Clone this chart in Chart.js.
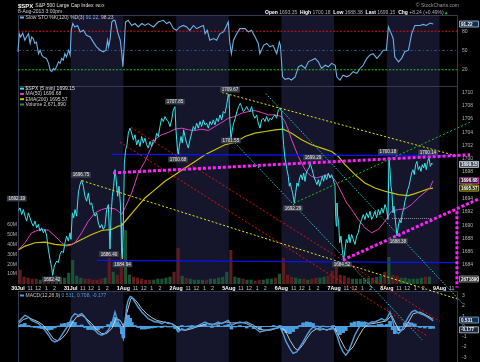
<!DOCTYPE html>
<html>
<head>
<meta charset="utf-8">
<script src="https://cdn.jsdelivr.net/npm/chart.js@4.4.0/dist/chart.umd.min.js"></script>
<style>
html, body { margin: 0; padding: 0; background: #000; }
#wrap { position: relative; width: 480px; height: 362px; overflow: hidden; background: #000; }
canvas { position: absolute; left: 0; top: 0; }
</style>
</head>
<body>
<div id="wrap">
  <canvas id="sto" width="480" height="362"></canvas>
  <canvas id="macd" width="480" height="362"></canvas>
  <canvas id="price" width="480" height="362"></canvas>
</div>
<script>
// x axis is measured in trading days from 30Jul 9:30 (one day = 78 five-minute bars)
const dayNames = ['30Jul', '31Jul', '1Aug', '2Aug', '5Aug', '6Aug', '7Aug', '8Aug', '9Aug'];
const hourNames = ['11', '12', '1', '2'];
const hourBars = [18, 30, 42, 54];
const barsPerDay = 78;
const xMax = 8.35;

const stoTicks = [20, 50, 80];
const priceTicks = [1682, 1684, 1686, 1688, 1690, 1692, 1694, 1696, 1698, 1700, 1702, 1704, 1706, 1708, 1710];
const volTicks = [10, 20, 30, 40, 50, 60];
const macdTicks = [-3, -2, -1, 0, 1, 2, 3];

// $SPX 5 min closes
const priceDay = [
  0.006, 0.038, 0.07, 0.101, 0.133, 0.164, 0.196, 0.228, 0.259, 0.291, 0.323, 0.354, 0.386, 0.417, 0.449, 0.481,
  0.512, 0.544, 0.576, 0.607, 0.639, 0.658, 0.689, 0.734, 0.765, 0.797, 0.829, 0.86, 0.892, 0.923, 0.955, 0.987,
  1.006, 1.031, 1.056, 1.082, 1.113, 1.145, 1.176, 1.208, 1.24, 1.271, 1.303, 1.335, 1.366, 1.398, 1.429, 1.461,
  1.493, 1.524, 1.556, 1.588, 1.619, 1.651, 1.682, 1.714, 1.746, 1.765, 1.79, 1.815, 1.841, 1.86, 1.891, 1.917,
  1.942, 1.955, 1.967, 1.98, 1.999,
  2.018, 2.043, 2.068, 2.094, 2.125, 2.157, 2.188, 2.22, 2.252, 2.283, 2.315, 2.347, 2.378, 2.41, 2.441, 2.473,
  2.505, 2.536, 2.568, 2.6, 2.631, 2.663, 2.694, 2.726, 2.758, 2.789, 2.821, 2.852, 2.884, 2.916, 2.947, 2.979, 2.998,
  3.017, 3.03, 3.042, 3.061, 3.093, 3.118, 3.144, 3.169, 3.2, 3.232, 3.264, 3.295, 3.327, 3.359, 3.39, 3.422,
  3.454, 3.485, 3.517, 3.548, 3.58, 3.612, 3.643, 3.675, 3.706, 3.738, 3.77, 3.801, 3.833, 3.865, 3.896, 3.928, 3.96, 3.991,
  4.004, 4.023, 4.042, 4.067, 4.092, 4.123, 4.155, 4.187, 4.218, 4.244, 4.275, 4.307, 4.339, 4.37, 4.402, 4.434,
  4.465, 4.497, 4.529, 4.56, 4.592, 4.624, 4.655, 4.687, 4.718, 4.75, 4.782, 4.813, 4.845, 4.877, 4.908, 4.94, 4.972, 5.003,
  5.022, 5.041, 5.066, 5.085, 5.104, 5.13, 5.149, 5.168, 5.193, 5.212, 5.231, 5.244, 5.269, 5.294, 5.319, 5.345,
  5.37, 5.395, 5.421, 5.446, 5.471, 5.497, 5.522, 5.547, 5.572, 5.598, 5.623, 5.648, 5.674, 5.699, 5.724, 5.749,
  5.775, 5.8, 5.825, 5.857, 5.889, 5.92, 5.952, 5.984,
  6.015, 6.028, 6.041, 6.053, 6.066, 6.085, 6.104, 6.129, 6.154, 6.179, 6.205, 6.23, 6.255, 6.281, 6.3, 6.331,
  6.363, 6.395, 6.426, 6.458, 6.489, 6.521, 6.553, 6.584, 6.616, 6.648, 6.679, 6.711, 6.742, 6.774, 6.806, 6.837,
  6.869, 6.901, 6.932, 6.964, 6.996,
  7.021, 7.04, 7.059, 7.078, 7.097, 7.116, 7.135, 7.154, 7.173, 7.192, 7.217, 7.243, 7.268, 7.293, 7.318, 7.343,
  7.369, 7.394, 7.419, 7.445, 7.47, 7.495, 7.52, 7.546, 7.571, 7.596, 7.622, 7.647, 7.672, 7.698, 7.723, 7.748,
  7.774, 7.799, 7.824, 7.85, 7.875
];
const priceVal = [
  1692.19, 1692.6, 1691.6, 1692.35, 1691.35, 1690.6, 1691.85, 1691.1, 1690.35, 1689.85, 1690.6, 1689.6, 1690.1, 1689.1, 1689.6, 1688.85,
  1689.35, 1688.35, 1686.35, 1684.85, 1683.6, 1682.42, 1683.85, 1684.6, 1684.35, 1685.6, 1686.1, 1685.85, 1687.35, 1688.35, 1687.6, 1688.85,
  1687.85, 1691.85, 1691.1, 1692.35, 1691.35, 1694.85, 1696.1, 1696.75, 1695.85, 1694.35, 1693.6, 1694.85, 1693.1, 1693.35, 1692.1, 1691.35,
  1691.85, 1690.35, 1689.6, 1690.1, 1689.35, 1689.85, 1692.35, 1693.1, 1686.4, 1691.35, 1694.35, 1695.85, 1698.35, 1697.1, 1694.35, 1695.85,
  1693.35, 1690.35, 1685.85, 1684.94, 1689.85,
  1699.35, 1701.35, 1702.1, 1703.85, 1704.6, 1703.85, 1702.85, 1703.6, 1702.1, 1702.85, 1701.85, 1703.35, 1702.35, 1703.1, 1702.1, 1701.6,
  1702.6, 1701.85, 1702.85, 1702.6, 1703.85, 1703.35, 1704.85, 1706.1, 1705.6, 1706.35, 1705.85, 1705.6, 1704.85, 1705.85, 1707.35, 1707.85, 1704.35,
  1702.35, 1701.1, 1700.68, 1701.85, 1703.35, 1702.35, 1704.35, 1703.35, 1702.35, 1701.6, 1702.85, 1703.85, 1704.85, 1704.35, 1705.35, 1704.6,
  1705.6, 1704.85, 1705.85, 1705.1, 1705.35, 1704.6, 1705.6, 1705.1, 1705.85, 1705.1, 1706.1, 1705.6, 1706.6, 1705.85, 1707.1, 1706.85, 1708.1, 1709.67,
  1709.35, 1705.35, 1703.0, 1704.35, 1705.35, 1706.1, 1707.1, 1707.85, 1708.35, 1707.85, 1707.1, 1707.35, 1707.85, 1707.35, 1707.1, 1707.85,
  1706.6, 1706.1, 1706.6, 1705.35, 1704.6, 1705.85, 1706.1, 1705.6, 1706.35, 1705.6, 1706.1, 1705.85, 1706.35, 1706.6, 1706.1, 1707.35, 1707.6, 1707.1,
  1704.35, 1702.1, 1700.1, 1699.35, 1698.35, 1697.35, 1695.85, 1696.35, 1695.35, 1694.85, 1693.85, 1693.3, 1694.85, 1696.35, 1695.85, 1697.1,
  1697.6, 1696.85, 1697.85, 1696.6, 1697.85, 1698.35, 1698.6, 1699.29, 1698.6, 1697.85, 1697.1, 1696.6, 1696.1, 1696.85, 1695.85, 1696.6,
  1697.35, 1696.6, 1697.6, 1696.85, 1697.85, 1697.1, 1697.6, 1696.85,
  1695.85, 1691.35, 1689.85, 1693.35, 1691.35, 1690.35, 1687.35, 1688.35, 1686.35, 1684.6, 1686.35, 1687.85, 1687.35, 1688.6, 1687.35, 1688.6,
  1687.85, 1687.1, 1688.35, 1688.85, 1690.1, 1690.85, 1691.6, 1690.85, 1691.85, 1691.1, 1692.1, 1690.85, 1691.35, 1692.1, 1691.1, 1692.35,
  1691.6, 1692.6, 1691.85, 1693.1, 1692.35,
  1690.85, 1700.18, 1698.35, 1695.85, 1694.85, 1691.85, 1692.85, 1691.35, 1689.85, 1688.38, 1689.85, 1690.85, 1690.35, 1691.85, 1692.35, 1693.6,
  1694.35, 1695.35, 1695.85, 1696.85, 1697.85, 1698.35, 1697.6, 1699.1, 1699.6, 1698.35, 1698.85, 1698.1, 1699.1, 1698.6, 1699.35, 1698.35,
  1699.6, 1700.14, 1698.85, 1699.35, 1699.15
];

const ma50Day = [0.006, 0.133, 0.259, 0.417, 0.576, 0.702, 0.829, 0.923, 0.987, 1.082, 1.208, 1.335, 1.461, 1.588, 1.714, 1.841, 1.904, 1.967, 2.03,
  2.157, 2.283, 2.41, 2.536, 2.631, 2.726, 2.852, 2.979, 3.106, 3.232, 3.359, 3.485, 3.612, 3.738, 3.865, 3.991, 4.117,
  4.244, 4.371, 4.497, 4.624, 4.75, 4.877, 5.003, 5.066, 5.13, 5.193, 5.256, 5.319, 5.383, 5.446, 5.509, 5.572, 5.667, 5.762, 5.889, 5.984, 6.047, 6.142, 6.237,
  6.331, 6.458, 6.584, 6.711, 6.837, 6.964, 7.09, 7.217, 7.344, 7.47, 7.597, 7.723, 7.818, 7.875];
const ma50Val = [1686.25, 1687.35, 1688.85, 1689.35, 1689.25, 1688.35, 1687.35, 1686.85, 1686.95, 1687.35, 1688.85, 1690.6, 1691.85, 1692.35, 1692.6, 1692.45, 1692.1, 1691.6, 1692.6,
  1694.85, 1697.85, 1699.6, 1701.85, 1703.1, 1703.6, 1703.95, 1704.45, 1704.6, 1704.35, 1704.25, 1704.45, 1704.25, 1704.85, 1705.45, 1706.1, 1706.35,
  1706.85, 1707.1, 1707.25, 1706.95, 1706.6, 1706.6, 1706.35, 1705.6, 1704.35, 1702.85, 1701.6, 1700.35, 1699.35, 1698.35, 1697.75, 1697.35, 1697.1, 1697.35, 1697.6, 1697.1, 1696.35, 1694.85, 1693.35,
  1692.35, 1690.85, 1689.6, 1688.85, 1689.35, 1690.6, 1692.1, 1692.35, 1692.45, 1693.1, 1694.1, 1694.95, 1695.6, 1696.68];

const ema200Day = [0.006, 0.133, 0.323, 0.512, 0.702, 0.892, 1.018, 1.208, 1.398, 1.588, 1.777, 1.904, 1.967, 2.062,
  2.22, 2.41, 2.6, 2.789, 2.979, 3.169, 3.359, 3.548, 3.738, 3.928, 4.117,
  4.307, 4.497, 4.687, 4.877, 5.035, 5.193, 5.383, 5.572, 5.762, 5.952, 6.079, 6.205,
  6.395, 6.584, 6.774, 6.964, 7.09, 7.217, 7.407, 7.533, 7.66, 7.786, 7.875];
const ema200Val = [1686.25, 1686.85, 1687.35, 1687.45, 1687.1, 1686.95, 1687.1, 1687.85, 1688.6, 1689.2, 1689.35, 1689.85, 1689.95, 1690.85,
  1692.35, 1694.1, 1695.35, 1696.6, 1697.6, 1698.6, 1699.6, 1700.6, 1701.35, 1702.1, 1702.45,
  1703.35, 1703.85, 1704.1, 1704.35, 1704.45, 1703.85, 1702.85, 1702.1, 1701.6, 1701.1, 1700.35, 1699.1,
  1697.6, 1696.35, 1695.6, 1695.1, 1694.85, 1694.6, 1694.45, 1694.75, 1695.1, 1695.45, 1695.57];

// volume, millions, per half hour of each session
const volByDay = [
  [14, 7, 6, 5, 5, 4, 4, 5, 7, 8, 6, 6, 11],
  [24, 8, 6, 5, 5, 4, 4, 5, 6, 26, 12, 9, 30],
  [54, 9, 7, 6, 5, 4, 4, 4, 5, 5, 6, 7, 12],
  [36, 8, 6, 5, 4, 4, 4, 4, 5, 5, 6, 7, 12],
  [34, 7, 6, 5, 4, 4, 3, 4, 4, 5, 5, 6, 10],
  [26, 9, 7, 6, 5, 5, 4, 5, 6, 6, 7, 8, 13],
  [18, 9, 8, 6, 5, 5, 5, 5, 6, 6, 7, 8, 12],
  [27, 9, 8, 6, 6, 5, 5, 5, 6, 7, 7]
];

// Slow STO %K(120)
const stoDay = [0.0, 0.025, 0.05, 0.09, 0.13, 0.16, 0.2, 0.23, 0.26, 0.29, 0.32, 0.35, 0.39, 0.42, 0.45, 0.48, 0.54, 0.58, 0.61, 0.64,
  0.67, 0.7, 0.73, 0.77, 0.8, 0.83, 0.86, 0.89, 0.92, 0.96, 0.99, 1.01, 1.04, 1.08, 1.13, 1.18, 1.24, 1.3, 1.37, 1.43,
  1.49, 1.56, 1.62, 1.67, 1.7, 1.72, 1.75, 1.78, 1.81, 1.84, 1.87, 1.9, 1.94, 1.97, 1.99, 2.01, 2.04, 2.09, 2.16, 2.22,
  2.28, 2.35, 2.41, 2.47, 2.57, 2.66, 2.76, 2.82, 2.88, 2.95, 3.01, 3.07, 3.14, 3.2, 3.26, 3.33, 3.39, 3.45, 3.52, 3.55,
  3.59, 3.64, 3.71, 3.77, 3.83, 3.9, 3.96, 3.99, 4.02, 4.05, 4.09, 4.15, 4.21, 4.31, 4.37, 4.43, 4.5, 4.56, 4.59, 4.66,
  4.72, 4.78, 4.84, 4.91, 4.96, 4.98, 5.02, 5.07, 5.13, 5.19, 5.26, 5.32, 5.38, 5.45, 5.51, 5.57, 5.64, 5.7, 5.76, 5.83,
  5.89, 5.95, 6.02, 6.05, 6.11, 6.17, 6.24, 6.3, 6.36, 6.43, 6.49, 6.55, 6.62, 6.68, 6.74, 6.81, 6.87, 6.93, 6.99, 7.03,
  7.07, 7.12, 7.15, 7.22, 7.28, 7.34, 7.41, 7.47, 7.53, 7.63, 7.69, 7.75, 7.82, 7.88];
const stoVal = [47.9, 76, 71, 77, 66, 71, 76, 61, 71, 68.7, 61, 63, 45, 50.5, 43, 40, 37.7, 30, 19.5, 17,
  22, 19.5, 24.6, 32.4, 30, 37.7, 35, 45, 40, 50.5, 43, 81.5, 92, 86.7, 89, 79, 81.5, 73.8, 71, 63,
  55.7, 50.5, 48, 50.5, 66, 55.7, 68.7, 94.4, 97, 97, 86.7, 76, 66, 45, 24.6, 50.5, 94.4, 97, 89, 92,
  86.7, 92, 89, 92, 86.7, 94.4, 97, 92, 94.4, 84, 81.5, 86.7, 89, 86.7, 81.5, 89, 84, 86.7, 89, 76,
  81.5, 66, 68.7, 66, 76, 79, 89, 94.4, 61, 45, 66, 76, 84, 84, 79, 81.5, 71, 61, 45, 58,
  61, 55.7, 58, 45, 63, 58, 9, 5, 6.6, 4, 9, 24.6, 27, 22, 32.4, 35, 37.7, 32.4, 22, 27,
  24.6, 30, 27, 9, 4, 11.6, 9, 11.6, 17, 14.3, 22, 27, 37.7, 43, 45, 37.7, 43, 50.5, 50.5, 86.7,
  79, 68.7, 40, 32.4, 37.7, 48, 50.5, 76, 89, 89, 90.7, 89, 92.8, 91.22];

// MACD(12,26,9): line, histogram, signal
const macdDay = [0.01, 0.07, 0.13, 0.2, 0.26, 0.32, 0.39, 0.45, 0.51, 0.58, 0.64, 0.7, 0.77, 0.83, 0.89, 0.96, 1.02, 1.08, 1.14, 1.21,
  1.27, 1.33, 1.4, 1.46, 1.52, 1.59, 1.65, 1.71, 1.78, 1.84, 1.87, 1.92, 1.97, 2.0, 2.03, 2.06, 2.09, 2.13, 2.16, 2.22,
  2.28, 2.35, 2.41, 2.47, 2.54, 2.6, 2.66, 2.73, 2.79, 2.85, 2.92, 2.98, 3.04, 3.11, 3.17, 3.23, 3.3, 3.36, 3.42, 3.49,
  3.55, 3.61, 3.68, 3.74, 3.8, 3.86, 3.93, 3.99, 4.05, 4.12, 4.21, 4.34, 4.47, 4.59, 4.72, 4.85, 4.97, 5.03, 5.09, 5.16,
  5.22, 5.29, 5.35, 5.41, 5.48, 5.54, 5.6, 5.67, 5.73, 5.79, 5.86, 5.92, 5.98, 6.05, 6.11, 6.17, 6.22, 6.27, 6.33, 6.39,
  6.46, 6.52, 6.58, 6.65, 6.71, 6.77, 6.84, 6.9, 6.96, 7.0, 7.06, 7.11, 7.15, 7.22, 7.28, 7.34, 7.41, 7.47, 7.53, 7.63,
  7.72, 7.82, 7.88];
const macdVal = [0.44, 0.77, 1.09, 0.93, 0.6, 0.44, 0.28, -0.05, -0.37, -0.85, -1.34, -1.5, -1.34, -0.85, -0.37, 0.12, 0.92, 1.25, 1.09, 1.25,
  0.93, 0.44, -0.05, -0.37, -0.69, -0.85, -0.69, -0.37, 0.28, 1.41, 0.93, 0.28, -0.69, -1.18, 0.28, 1.9, 2.54, 2.93, 2.87, 2.38,
  1.9, 1.41, 1.09, 0.77, 0.6, 0.44, 0.44, 0.28, 0.44, 0.28, 0.28, -0.05, -0.53, -0.21, -0.37, -0.21, -0.05, -0.05, 0.12, 0.28,
  0.44, 0.28, 0.12, 0.28, 0.44, 0.28, 0.44, 0.6, 0.12, 0.28, 0.44, 0.28, -0.05, -0.53, -0.37, -0.21, -0.05, -0.69, -1.5, -2.15,
  -2.63, -2.47, -1.99, -1.5, -0.85, -0.37, -0.05, -0.21, -0.37, -0.21, -0.37, -0.21, -0.05, -0.85, -1.83, -2.47, -2.8, -2.47, -1.67, -0.85,
  -0.21, 0.28, 0.44, 0.28, 0.44, 0.44, 0.6, 0.77, 0.6, 0.77, 1.41, 0.6, -0.37, -0.69, -0.37, 0.28, 0.93, 1.41, 1.57, 1.25,
  1.09, 0.77, 0.531];
const macdHist = [0.15, 0.2, 0.3, 0.1, -0.05, -0.1, -0.15, -0.2, -0.25, -0.35, -0.3, -0.15, 0.05, 0.25, 0.3, 0.4, 0.55, 0.4, 0.1, 0.15,
  -0.1, -0.3, -0.3, -0.35, -0.3, -0.15, 0.0, 0.2, 0.45, 0.9, 0.4, 0.2, -0.7, -1.1, 0.3, 0.9, 1.1, 0.8, 0.4, 0.1,
  -0.1, -0.25, -0.25, -0.2, -0.15, -0.1, -0.05, -0.1, 0.05, -0.05, -0.05, -0.2, -0.35, 0.1, 0.0, 0.05, 0.1, 0.05, 0.1, 0.15,
  0.2, 0.05, -0.1, 0.05, 0.15, 0.0, 0.1, 0.2, -0.25, -0.05, 0.1, -0.15, -0.2, -0.25, 0.0, 0.1, 0.1, -0.4, -0.6, -0.7,
  -0.5, -0.2, 0.1, 0.35, 0.45, 0.4, 0.3, 0.05, -0.1, 0.05, -0.05, 0.0, 0.1, -0.5, -0.8, -0.6, -0.4, 0.0, 0.35, 0.45,
  0.5, 0.45, 0.3, 0.1, 0.1, 0.1, 0.2, 0.25, 0.1, 0.2, 0.5, -0.3, -0.7, -0.4, -0.05, 0.35, 0.4, 0.35, 0.25, -0.1,
  -0.15, -0.2, -0.177];
const sigDay = [0.01, 0.1, 0.2, 0.29, 0.39, 0.48, 0.58, 0.67, 0.75, 0.83, 0.92, 1.02, 1.11, 1.21, 1.3, 1.4, 1.49, 1.59, 1.68, 1.78,
  1.86, 1.94, 2.01, 2.07, 2.14, 2.19, 2.26, 2.35, 2.44, 2.54, 2.63, 2.76, 2.88, 2.98, 3.07, 3.17, 3.26, 3.36, 3.45, 3.58,
  3.71, 3.83, 3.96, 4.05, 4.21, 4.34, 4.47, 4.59, 4.78, 4.97, 5.07, 5.16, 5.26, 5.32, 5.4, 5.48, 5.57, 5.67, 5.86, 6.02,
  6.11, 6.21, 6.27, 6.36, 6.46, 6.55, 6.65, 6.81, 6.99, 7.09, 7.15, 7.23, 7.32, 7.41, 7.5, 7.63, 7.75, 7.88];
const sigVal = [0.28, 0.67, 0.86, 0.67, 0.44, 0.12, -0.53, -1.18, -1.4, -1.18, -0.69, 0.28, 0.93, 1.09, 0.77, 0.28, -0.3, -0.69, -0.69, -0.21,
  0.77, 0.6, -0.05, 1.41, 2.7, 2.77, 2.38, 1.73, 1.25, 0.86, 0.6, 0.44, 0.35, 0.12, -0.3, -0.37, -0.27, -0.1, 0.05, 0.28,
  0.22, 0.28, 0.44, 0.35, 0.35, 0.44, 0.12, -0.3, -0.37, -0.1, -0.37, -1.34, -2.15, -2.31, -1.83, -1.18, -0.53, -0.21, -0.3, -0.21,
  -1.18, -2.15, -2.47, -1.99, -1.01, -0.21, 0.22, 0.35, 0.54, 1.09, 0.44, -0.37, -0.3, 0.44, 1.25, 1.41, 1.09, 0.708];

// hand drawn annotations, [day, price] end points
const trendYellowA = [[1.214, 1696.70], [8.33, 1678.9]];
const trendYellowB = [[3.871, 1709.98], [8.35, 1700.37]];
const trendGreen = [[5.237, 1693.30], [8.577, 1705.49]];
const trendCyanA = [[4.706, 1709.79], [8.425, 1678.31]];
const trendCyanB = [[4.004, 1703.34], [7.666, 1672.76]];
const trendRedA = [[2.144, 1704.74], [8.008, 1675.5]];
const trendRedB = [[1.935, 1702.49], [7.78, 1673.25]];
const levelHigh = [[1.784, 1700.65], [8.31, 1700.45]];
const levelLow = [[1.5, 1684.71], [8.31, 1684.35]];
const channelTop = [[1.803, 1697.87], [8.577, 1700.60]];
const channelBottom = [[6.167, 1684.75], [8.73, 1693.9]];
const targetLine = [[8.33, 1692.1], [8.33, 1680.6]];
const pivotLine = [[7.1, 1691.0], [7.85, 1691.0]];

// price labels on the chart: text, day, price
const noteText = ['1692.19', '1696.75', '1686.40', '1684.94', '1682.42', '1707.85', '1700.68', '1709.67', '1701.55', '1699.29', '1692.29', '1684.52', '1700.18', '1700.14', '1688.38'];
const noteDay = [-0.025, 1.195, 1.727, 1.983, 0.645, 2.979, 3.036, 4.023, 4.04, 5.598, 5.218, 6.148, 7.02, 7.78, 7.21];
const notePrice = [1694.0, 1697.57, 1685.65, 1684.08, 1681.83, 1708.59, 1699.9, 1710.39, 1702.74, 1700.19, 1692.55, 1684.08, 1701.02, 1700.94, 1687.6];

const F = '"Liberation Sans", Arial, sans-serif';

function pts(xs, ys) { return xs.map((x, i) => ({ x: x, y: ys[i] })); }
function seg(line) { return line.map(p => ({ x: p[0], y: p[1] })); }

function priceAt(day) {
  let v = priceVal[0];
  for (let i = 0; i < priceDay.length && priceDay[i] <= day; i++) v = priceVal[i];
  return v;
}

const volPoints = [];
const volColors = [];
volByDay.forEach((vals, d) => {
  vals.forEach((v, k) => {
    const x0 = d + k / 13, x1 = d + (k + 1) / 13;
    volPoints.push({ x: x0 + 0.5 / 13, y: v });
    volColors.push(priceAt(x1) >= priceAt(x0) ? '#1b5236' : '#5e1d1d');
  });
});

function xTicks() {
  const t = [];
  for (let d = 0; d < dayNames.length; d++) {
    t.push({ value: d });
    hourBars.forEach(b => { if (d + b / barsPerDay <= xMax) t.push({ value: d + b / barsPerDay }); });
  }
  return t;
}
function isDay(v) { return Math.abs(v - Math.round(v)) < 1e-6; }
function xLabel(v) {
  if (isDay(v)) return dayNames[Math.round(v)];
  const d = Math.floor(v);
  const k = hourBars.indexOf(Math.round((v - d) * barsPerDay));
  return k >= 0 ? hourNames[k] : '';
}

function rightAxis(min, max, ticks) {
  return {
    position: 'right', min: min, max: max,
    grid: { display: false, drawTicks: false }, border: { display: false },
    ticks: { color: '#b4b4b4', padding: 4, font: { family: F, size: 5 }, callback: v => String(v) },
    afterBuildTicks(s) { s.ticks = ticks.map(v => ({ value: v })); },
    afterFit(s) { s.width = 22; s.paddingTop = 0; s.paddingBottom = 0; }
  };
}
const hiddenX = { type: 'linear', min: 0, max: xMax, display: false, offset: false };

function line(data, color, width, dash, order) {
  return { type: 'line', data: data, borderColor: color, borderWidth: width, borderDash: dash || [],
    pointRadius: 0, tension: 0, fill: false, clip: false, order: order };
}

function tag(ctx, y, text, fill, border, color) {
  ctx.font = 'bold 4.6px ' + F;
  const w = 19, h = 6;
  ctx.fillStyle = fill; ctx.strokeStyle = border; ctx.lineWidth = 0.8;
  ctx.beginPath(); ctx.rect(459.5, y - h / 2, w, h); ctx.fill(); ctx.stroke();
  ctx.fillStyle = color; ctx.textAlign = 'left'; ctx.textBaseline = 'middle';
  ctx.fillText(text, 461, y + 0.3);
}

function keyLines(ctx, x, y, rows) {
  ctx.textBaseline = 'middle'; ctx.textAlign = 'left';
  rows.forEach((r, i) => {
    const yy = y + i * 5.3;
    ctx.fillStyle = r.mark; ctx.fillRect(x, yy - 1, 4, 2);
    let tx = x + 5.5;
    r.parts.forEach(p => {
      ctx.font = '5px ' + F; ctx.fillStyle = p[1];
      ctx.fillText(p[0], tx, yy); tx += ctx.measureText(p[0]).width;
    });
  });
}

function deco(cfg) {
  return {
    id: 'deco',
    beforeDatasetsDraw(chart) {
      const ctx = chart.ctx, a = chart.chartArea, x = chart.scales.x;
      ctx.save();
      ctx.fillStyle = '#15152b';
      for (let d = 1; d < dayNames.length; d += 2) {
        const l = Math.max(x.getPixelForValue(d), a.left);
        const r = Math.min(x.getPixelForValue(d + 1), a.right);
        if (r > l) ctx.fillRect(l, a.top, r - l, a.bottom - a.top);
      }
      ctx.strokeStyle = '#343a52'; ctx.lineWidth = 1;
      ctx.beginPath();
      ctx.moveTo(a.left + 0.5, a.bottom); ctx.lineTo(a.left + 0.5, a.top + 0.5);
      ctx.lineTo(a.right - 0.5, a.top + 0.5); ctx.lineTo(a.right - 0.5, a.bottom);
      ctx.stroke();
      ctx.restore();
    },
    afterDraw(chart) {
      const ctx = chart.ctx;
      ctx.save();
      if (cfg.draw) cfg.draw(chart, ctx);
      ctx.restore();
    }
  };
}

// ---------- Slow STO panel ----------
new Chart(document.getElementById('sto'), {
  type: 'line',
  data: {
    datasets: [
      line(pts(stoDay, stoVal), '#6cb2e6', 1.1, [], 0),
      line(seg([[0, 80], [xMax, 80]]), '#d01818', 1, [2, 1.5], 1),
      line(seg([[0, 50], [xMax, 50]]), '#2a5a9a', 0.8, [3, 2, 1, 2], 1),
      line(seg([[0, 20], [xMax, 20]]), '#18c018', 1, [2, 1.5], 1)
    ]
  },
  options: {
    responsive: false, animation: false, events: [],
    layout: { padding: { top: 15, left: 18, right: 0, bottom: 276 } },
    plugins: { legend: { display: false }, tooltip: { enabled: false } },
    scales: { x: hiddenX, y: rightAxis(-5.3, 105.3, stoTicks) }
  },
  plugins: [deco({
    draw(chart, ctx) {
      ctx.textBaseline = 'middle'; ctx.textAlign = 'left';
      ctx.fillStyle = '#ffffff'; ctx.font = 'bold 6px ' + F; ctx.fillText('$SPX', 18, 6);
      let hx = 18 + ctx.measureText('$SPX').width + 2;
      ctx.font = '5px ' + F; ctx.fillStyle = '#e0e0e0'; ctx.fillText('S&P 500 Large Cap Index', hx, 6);
      hx += ctx.measureText('S&P 500 Large Cap Index').width + 2;
      ctx.font = '3.8px ' + F; ctx.fillText('INDX', hx, 6.3);
      ctx.font = '5px ' + F; ctx.fillStyle = '#d0d0d0'; ctx.fillText('8-Aug-2013 3:00pm', 18, 12);
      ctx.textAlign = 'right'; ctx.fillStyle = '#9a9a9a'; ctx.fillText('\u00a9 StockCharts.com', 459, 6);
      ctx.textAlign = 'left';
      const quote = [['Open', 1], [' 1693.35  ', 0], ['High', 1], [' 1700.18  ', 0], ['Low', 1], [' 1688.38  ', 0],
        ['Last', 1], [' 1699.15  ', 0], ['Chg', 1], [' +8.24 (+0.49%)', 0]];
      let qx = 265;
      quote.forEach(q => {
        ctx.font = (q[1] ? 'bold ' : '') + '5px ' + F;
        ctx.fillStyle = q[1] ? '#ffffff' : '#b0b0b0';
        ctx.fillText(q[0], qx, 12.7); qx += ctx.measureText(q[0]).width;
      });
      ctx.fillStyle = '#20c020';
      ctx.beginPath(); ctx.moveTo(qx + 1, 14.3); ctx.lineTo(qx + 4, 14.3); ctx.lineTo(qx + 2.5, 11.5); ctx.fill();
      keyLines(ctx, 20, 17.5, [{ mark: '#6cb2e6', parts: [['Slow STO %K(120) %D(3) ', '#c8c8c8'], ['91.22', '#6cb2e6'], [', 98.23', '#c8c8c8']] }]);
      tag(ctx, chart.scales.y.getPixelForValue(91.22), '91.22', '#1c2c44', '#9cc8ee', '#ffffff');
    }
  })]
});

// ---------- MACD panel ----------
new Chart(document.getElementById('macd'), {
  type: 'line',
  data: {
    datasets: [
      { type: 'bar', data: pts(macdDay, macdHist), backgroundColor: '#4aa0e0', barThickness: 3, grouped: false, order: 5 },
      line(seg([[macdDay[0], 0], [macdDay[macdDay.length - 1], 0]]), '#4aa0e0', 1, [], 4),
      line(pts(sigDay, sigVal), '#d8d8d8', 0.9, [], 2),
      line(pts(macdDay, macdVal), '#4f9ee0', 1.4, [], 1)
    ]
  },
  options: {
    responsive: false, animation: false, events: [],
    layout: { padding: { top: 291, left: 18, right: 0, bottom: 0 } },
    plugins: { legend: { display: false }, tooltip: { enabled: false } },
    scales: { x: hiddenX, y: rightAxis(-3.46, 3.46, macdTicks) }
  },
  plugins: [deco({
    draw(chart, ctx) {
      keyLines(ctx, 20, 295.5, [{ mark: '#4f9ee0', parts: [['MACD(12,26,9) ', '#c8c8c8'], ['0.531, 0.708, -0.177', '#4f9ee0']] }]);
      const y = chart.scales.y;
      tag(ctx, y.getPixelForValue(0.531) - 1, '0.531', '#1c2c44', '#6cb2e6', '#ffffff');
      tag(ctx, y.getPixelForValue(-0.177) + 1.5, '-0.177', '#1c2c44', '#c8c8c8', '#ffffff');
    }
  })]
});

// ---------- price panel ----------
new Chart(document.getElementById('price'), {
  type: 'line',
  data: {
    datasets: [
      { type: 'bar', yAxisID: 'vol', data: volPoints, backgroundColor: volColors, barThickness: 2.5, grouped: false, order: 20 },
      line(pts(ema200Day, ema200Val), '#c8c400', 1.2, [], 8),
      line(pts(ma50Day, ma50Val), '#e040c0', 1, [], 7),
      line(seg(levelHigh), '#0a14f0', 1.3, [], 6),
      line(seg(levelLow), '#0a14f0', 1.3, [], 6),
      line(pts(priceDay, priceVal), '#38e4ec', 1, [], 3),
      line(seg(trendYellowA), '#e6e600', 1, [2, 2], 2),
      line(seg(trendYellowB), '#e6e600', 1, [2, 2], 2),
      line(seg(trendGreen), '#18c018', 1, [2, 2], 2),
      line(seg(trendCyanA), '#22c8c8', 1, [1.5, 1.5], 2),
      line(seg(trendCyanB), '#22c8c8', 1, [1.5, 1.5], 2),
      line(seg(trendRedA), '#e01010', 1, [2, 2], 2),
      line(seg(trendRedB), '#e01010', 1, [2, 2], 2),
      line(seg(pivotLine), '#b8b8b8', 0.8, [1, 1], 2),
      line(seg(channelTop), '#ff22ff', 3, [3, 2], 1),
      line(seg(channelBottom), '#ff22ff', 3, [3, 2], 1),
      line(seg(targetLine), '#ff22ff', 3, [3, 2], 1)
    ]
  },
  options: {
    responsive: false, animation: false, events: [],
    layout: { padding: { top: 86, left: 0, right: 0, bottom: 70 } },
    plugins: { legend: { display: false }, tooltip: { enabled: false } },
    scales: {
      x: {
        type: 'linear', min: 0, max: xMax, offset: false,
        grid: { display: false, drawTicks: false, offset: false }, border: { display: false },
        ticks: {
          autoSkip: false, maxRotation: 0, padding: 1,
          color: c => (c.tick && isDay(c.tick.value)) ? '#ffffff' : '#c4c4c4',
          font: c => ({ family: F, size: 5.3, weight: (c.tick && isDay(c.tick.value)) ? 'bold' : 'normal' }),
          callback: v => xLabel(v)
        },
        afterBuildTicks(s) { s.ticks = xTicks(); },
        afterFit(s) { s.height = 8; s.paddingLeft = 0; s.paddingRight = 0; }
      },
      y: rightAxis(1681.14, 1710.95, priceTicks),
      vol: {
        position: 'left', min: 0, max: 200,
        grid: { display: false, drawTicks: false }, border: { display: false },
        ticks: { color: '#b4b4b4', padding: 1, font: { family: F, size: 5 }, callback: v => v + 'M' },
        afterBuildTicks(s) { s.ticks = volTicks.map(v => ({ value: v })); },
        afterFit(s) { s.width = 18; s.paddingTop = 0; s.paddingBottom = 0; }
      }
    }
  },
  plugins: [deco({
    draw(chart, ctx) {
      const x = chart.scales.x, y = chart.scales.y;
      ctx.font = '4.6px ' + F; ctx.textAlign = 'center'; ctx.textBaseline = 'middle';
      noteText.forEach((t, i) => {
        const px = x.getPixelForValue(noteDay[i]), py = y.getPixelForValue(notePrice[i]);
        const w = ctx.measureText(t).width + 3;
        ctx.fillStyle = '#3a3f4a'; ctx.fillRect(px - w / 2, py - 2.8, w, 5.6);
        ctx.fillStyle = '#e6e6e6'; ctx.fillText(t, px, py + 0.2);
      });
      keyLines(ctx, 20, 88.6, [
        { mark: '#38e4ec', parts: [['$SPX (5 min) 1699.15', '#e0e0e0']] },
        { mark: '#e040c0', parts: [['MA(50) 1696.68', '#d0d0d0']] },
        { mark: '#c8c400', parts: [['EMA(200) 1695.57', '#d0d0d0']] },
        { mark: '#2a8a70', parts: [['Volume 2,671,890', '#d0d0d0']] }
      ]);
      tag(ctx, y.getPixelForValue(1699.15), '1699.15', '#3a4a5a', '#d8e4f0', '#ffffff');
      tag(ctx, y.getPixelForValue(1696.68), '1696.68', '#2a1a2a', '#e040c0', '#ffffff');
      tag(ctx, y.getPixelForValue(1695.57), '1695.57', '#2a2a14', '#c8c400', '#ffffff');
      tag(ctx, Math.min(chart.scales.vol.getPixelForValue(2.67), 279), '2671890', '#222222', '#9a9a9a', '#ffffff');
    }
  })]
});
</script>
</body>
</html>
